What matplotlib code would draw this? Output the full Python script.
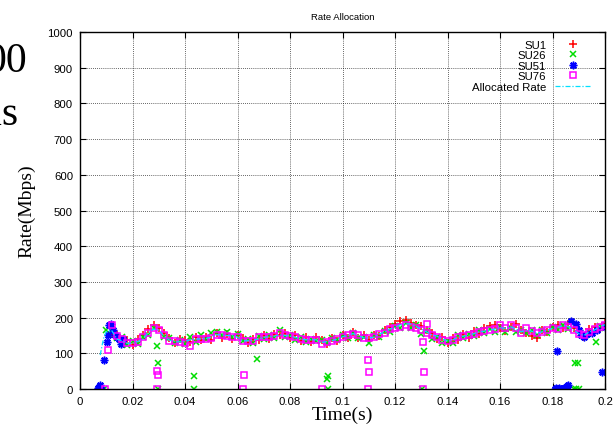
import numpy as np
import matplotlib
matplotlib.use("Agg")
import matplotlib.pyplot as plt

# ---------------- data (time in ms, rate in Mbps) ----------------
grid_ms = [10, 12, 14, 16, 18, 20, 22, 24, 26, 28, 30, 32, 34, 36, 38, 40, 42, 44, 46, 48,
           50, 52, 54, 56, 58, 60, 62, 64, 66, 68, 70, 72, 74, 76, 78, 80, 82, 84, 86, 88,
           90, 92, 94, 96, 98, 100, 102, 104, 106, 108, 110, 112, 114, 116, 118, 120, 122, 124, 126, 128,
           130, 132, 134, 136, 138, 140, 142, 144, 146, 148, 150, 152, 154, 156, 158, 160, 162, 164, 166, 168,
           170, 172, 174, 176, 178, 180, 182, 184, 186, 188, 190, 192, 194, 196, 198, 200]

alloc_ms = [7.7, 8.5, 9.2] + grid_ms
alloc = [95, 125, 148,
         160, 165, 140, 135, 128, 128, 133, 140, 158, 168, 165, 148, 137, 133, 132, 133, 138, 140, 140, 142,
         145, 152, 152, 150, 150, 145, 135, 135, 137, 140, 145, 146, 148, 152, 150, 148, 145, 140, 138, 138,
         138, 130, 133, 135, 140, 146, 150, 155, 150, 143, 143, 145, 155, 158, 168, 172, 180, 183, 182, 175,
         168, 160, 152, 148, 140, 135, 138, 145, 148, 150, 155, 160, 162, 165, 168, 172, 170, 175, 168, 160,
         165, 162, 156, 160, 165, 170, 172, 178, 175, 165, 155, 150, 160, 165, 175, 180]

su1 = [None, 155, 150, 132, 138, 122, 140, 150, 168, 180, 172, 158, 142, 128, 140, 138, 132, 146, 136, 147,
       138, 156, 144, 155, 140, 150, 142, 130, 141, 138, 150, 140, 154, 150, 158, 143, 152, 135, 145, 132,
       145, 138, 127, 143, 134, 152, 144, 160, 142, 150, 137, 152, 148, 165, 174, 183, 190, 192, 186, 180,
       176, 166, 156, 140, 145, 128, 142, 138, 154, 144, 162, 154, 170, 176, 180, 170, 162, 175, 182, 164,
       158, 148, 142, 166, 160, 175, 178, 172, 182, 172, 160, 146, 168, 174, 170, 185]

su26 = [165, 166, 142, 146, 124, 134, 126, 146, 150, 172, None, 146, 144, 130, 138, 126, 146, 132, 150, 140,
        156, 160, 152, 160, 146, 155, 134, 141, 130, 148, 139, 152, 144, 164, 145, 150, 136, 146, 132, 140,
        134, 138, 130, 144, 136, 150, 142, 158, 144, 146, 130, 150, 146, 162, 160, 176, 172, 186, 172, 178,
        154, 162, 140, 146, 128, 134, 130, 150, 144, 154, 148, 164, 156, 168, 160, 174, 160, 172, 160, 164,
        156, 166, 150, 164, 156, 174, 164, 180, 168, None, None, None, None, None, 176, 172]

su76 = [None, 178, 148, 140, 130, 128, 132, 145, 158, 170, 165, 150, 135, 135, 132, 130, 120, 140, 140, 140,
        142, 150, 150, 148, 145, 145, 135, 135, 135, 145, 145, 145, 148, 158, 150, 148, 145, 140, 138, 138,
        138, 125, 132, 135, 140, 145, 150, 155, 150, 143, 143, 145, 155, 158, 168, 172, 175, 180, 175, 170,
        165, 158, 150, 145, 138, 135, 138, 145, 148, 150, 155, 160, 162, 165, 168, 180, 172, 180, 172, 158,
        170, 162, 156, 160, 165, 170, 168, 178, 175, 165, 155, 152, 160, 168, 175, 180]

# scattered drop-outs of individual users
su26_out_ms = [9.3, 29.5, 29.8, 29.6, 43.3, 43.5, 67.5, 94.5, 94.2, 94.3, 131.0, 130.3, 188.5, 189.6, 188.0, 189.0, 190.0, 196.4]
su26_out = [0, 120, 72, 0, 37, 0, 85, 37, 27, 0, 107, 0, 72, 72, 0, 0, 0, 131]

su76_out_ms = [9.5, 10.5, 29.3, 29.6, 29.4, 62.5, 62.0, 92.0, 109.6, 110.0, 109.7, 130.5, 132.0, 131.0, 130.6]
su76_out = [0, 108, 50, 38, 0, 38, 0, 0, 82, 47, 0, 131, 181, 47, 0]

su51_ms = [7.0, 7.3, 7.5, 7.8, 8.0, 7.2, 7.7, 9.0, 10.2, 10.7, 11.2, 11.7, 12.5, 13.2, 14.0, 15.0, 15.8, 16.5,
           181.0, 181.5, 182.0, 182.5, 183.0, 183.5, 184.0, 184.5, 185.0, 185.5, 186.0, 181.8,
           187.0, 189.0, 190.0, 191.0, 192.0, 193.0, 195.0, 197.0, 199.0, 200.0]
su51 = [2, 6, 10, 4, 1, 0, 0, 82, 132, 152, 178, 183, 165, 150, 145, 140, 125, 140,
        0, 2, 0, 3, 0, 1, 0, 2, 5, 8, 12, 107,
        191, 181, 165, 150, 146, 155, 157, 165, 47, 175]

xticks = [0, 0.02, 0.04, 0.06, 0.08, 0.1, 0.12, 0.14, 0.16, 0.18, 0.2]
xtick_labels = ["0", "0.02", "0.04", "0.06", "0.08", "0.1", "0.12", "0.14", "0.16", "0.18", "0.2"]
yticks = [0, 100, 200, 300, 400, 500, 600, 700, 800, 900, 1000]


def arr(v):
    return np.array([np.nan if x is None else x for x in v], dtype=float)


# ---------------- figure ----------------
plt.rcParams['font.family'] = ['Liberation Sans', 'DejaVu Sans']
fig = plt.figure(figsize=(6.13, 4.27), dpi=100)
ax = fig.add_axes([80 / 613, 1 - 390 / 427, 525 / 613, 357 / 427])

gt = np.array(grid_ms) / 1000.0
ms = 5.5
mew = 1.1
ax.plot(gt, arr(su1), linestyle='none', marker='+', color='#ff0000', ms=ms, mew=mew, label='SU1')
ax.plot(np.array(su26_out_ms) / 1000.0, su26_out, linestyle='none', marker='x', color='#00dd00', ms=ms - 0.5, mew=mew)
ax.plot(gt, arr(su26), linestyle='none', marker='x', color='#00dd00', ms=ms - 0.5, mew=mew, label='SU26')
ax.plot(np.array(su51_ms) / 1000.0, su51, linestyle='none', marker=(8, 2, 0), color='#0000ff', ms=ms, mew=mew, label='SU51')
ax.plot(np.array(su76_out_ms) / 1000.0, su76_out, linestyle='none', marker='s', mfc='none', mec='#ff00ff', ms=4.9, mew=mew)
ax.plot(gt, arr(su76), linestyle='none', marker='s', mfc='none', mec='#ff00ff', ms=4.9, mew=mew, label='SU76')
ax.plot(np.array(alloc_ms) / 1000.0, alloc, linestyle=(0, (4, 1.5, 1, 1.5)), color='#00e0ff', lw=0.9, label='Allocated Rate')

ax.set_xlim(0, 0.2)
ax.set_ylim(0, 1000)
ax.set_xticks(xticks)
ax.set_xticklabels(xtick_labels)
ax.set_yticks(yticks)
ax.tick_params(direction='in', length=4, width=0.8, top=True, right=True, labelsize=8.2, colors='black', pad=5)
ax.grid(True, color='black', linestyle=(0, (1, 1.5)), linewidth=0.6, alpha=0.8)
ax.set_axisbelow(True)
for s in ax.spines.values():
    s.set_linewidth(1.0)

ax.set_title('Rate Allocation', fontsize=6.8, pad=9)
ax.set_xlabel('Time(s)', family=['Liberation Serif', 'DejaVu Serif'], fontsize=14, labelpad=0)
ax.set_ylabel('Rate(Mbps)', family=['Liberation Serif', 'DejaVu Serif'], fontsize=14, labelpad=9)

leg = ax.legend(loc='upper right', bbox_to_anchor=(0.975, 0.985), frameon=False, markerfirst=False,
                fontsize=8.2, handlelength=3.0, labelspacing=0.05, handletextpad=0.8, borderaxespad=0, borderpad=0.2)

# cropped fragments of neighbouring text at the left edge
fig.text(27 / 613, 1 - 72 / 427, '00', family=['Liberation Serif', 'DejaVu Serif'], fontsize=30, ha='right', va='baseline')
fig.text(18 / 613, 1 - 125 / 427, 'ns', family=['Liberation Serif', 'DejaVu Serif'], fontsize=30, ha='right', va='baseline')

fig.savefig('out.png', dpi=100)
